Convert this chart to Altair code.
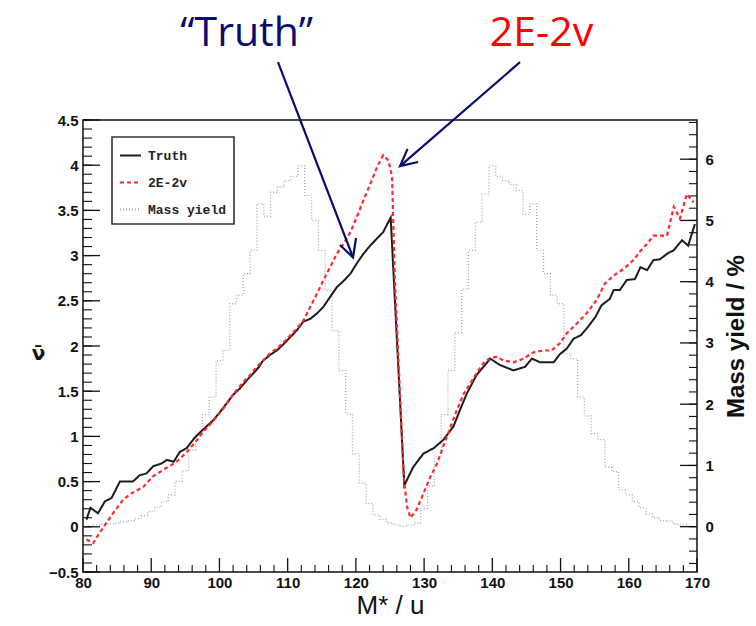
import altair as alt
import pandas as pd

# ---------------- data ----------------
truth_x = [80.5, 81.1, 82.2, 83.2, 84.2, 85.4, 86.4, 87.3, 88.3, 89.3, 90.3, 91.5, 92.3, 93.3, 94.2,
           95.2, 96.2, 97.1, 98.1, 99.1, 100.1, 101.1, 102.0, 103.0, 104.0, 105.0, 105.8, 106.3, 107.4,
           108.4, 109.4, 110.4, 111.3, 112.3, 113.3, 114.3, 115.2, 116.2, 117.2, 118.2, 119.2, 120.1,
           121.1, 122.1, 123.1, 124.0, 125.1, 127.1, 128.4, 129.9, 131.4, 132.8, 134.3, 135.3, 136.3,
           137.7, 139.7, 141.1, 143.1, 144.8, 145.8, 147.0, 149.0, 149.9, 150.9, 151.9, 153.0, 154.0,
           155.1, 156.0, 157.2, 157.8, 158.7, 159.7, 160.9, 161.7, 162.7, 163.6, 164.6, 165.6, 166.6,
           167.8, 168.7, 169.7]
truth_y = [0.08, 0.21, 0.15, 0.28, 0.32, 0.50, 0.50, 0.50, 0.57, 0.59, 0.67, 0.70, 0.74, 0.72, 0.83,
           0.87, 0.97, 1.04, 1.11, 1.18, 1.27, 1.37, 1.46, 1.53, 1.62, 1.70, 1.77, 1.83, 1.90,
           1.95, 2.02, 2.10, 2.17, 2.27, 2.30, 2.36, 2.43, 2.54, 2.65, 2.72, 2.80, 2.91,
           3.02, 3.11, 3.19, 3.26, 3.42, 0.46, 0.66, 0.81, 0.87, 0.96, 1.11, 1.30, 1.48,
           1.68, 1.86, 1.79, 1.73, 1.77, 1.86, 1.82, 1.82, 1.91, 1.97, 2.08, 2.12, 2.21,
           2.32, 2.45, 2.52, 2.62, 2.62, 2.73, 2.74, 2.87, 2.84, 2.95, 2.96, 3.02, 3.06,
           3.17, 3.11, 3.35]

e2v_x = [80.5, 81.5, 82.4, 83.4, 84.6, 85.9, 87.1, 88.8, 90.3, 92.2, 93.7, 94.6, 95.6, 96.6, 97.6,
         98.6, 99.6, 100.6, 101.6, 102.5, 103.5, 104.5, 105.5, 106.4, 107.4, 108.4, 109.4, 110.4,
         111.3, 112.3, 113.3, 114.3, 115.2, 116.2, 117.2, 118.2, 119.2, 120.1, 121.1, 122.1, 123.1,
         124.0, 124.8, 125.3, 125.7, 127.0, 127.5, 128.0, 128.9, 129.9, 130.9, 131.9, 132.8, 133.8,
         134.8, 135.8, 136.7, 137.7, 138.7, 139.7, 140.7, 141.6, 143.1, 144.6, 146.0, 147.5, 148.7,
         149.9, 150.9, 152.4, 153.8, 155.3, 156.5, 157.8, 159.2, 160.7, 161.7, 162.7, 163.6, 165.6,
         166.6, 167.5, 168.5, 169.5]
e2v_y = [-0.14, -0.18, -0.07, 0.04, 0.17, 0.30, 0.37, 0.44, 0.56, 0.65, 0.72, 0.78, 0.86, 0.95, 1.05,
         1.13, 1.22, 1.31, 1.42, 1.51, 1.60, 1.68, 1.77, 1.84, 1.92, 1.97, 2.04, 2.12,
         2.19, 2.28, 2.43, 2.58, 2.72, 2.87, 3.02, 3.13, 3.26, 3.42, 3.61, 3.79, 3.98,
         4.11, 4.05, 3.87, 2.76, 0.56, 0.22, 0.10, 0.19, 0.37, 0.55, 0.70, 0.89, 1.09,
         1.29, 1.47, 1.58, 1.70, 1.81, 1.87, 1.88, 1.84, 1.82, 1.86, 1.93, 1.95, 1.95,
         2.03, 2.14, 2.25, 2.36, 2.51, 2.69, 2.78, 2.85, 2.95, 3.05, 3.13, 3.22, 3.22,
         3.54, 3.41, 3.68, 3.59]

yield_mass = list(range(80, 171))
yield_pct = [0.00, 0.01, 0.03, 0.04, 0.05, 0.06, 0.08, 0.10, 0.13, 0.18,   # 80-89
             0.25, 0.32, 0.41, 0.52, 0.74, 0.91, 1.25, 1.52, 1.83, 2.12,   # 90-99
             2.71, 2.88, 3.64, 3.78, 4.13, 4.51, 5.27, 5.07, 5.46, 5.55,   # 100-109
             5.65, 5.72, 5.89, 5.41, 5.00, 4.51, 3.86, 3.20, 2.55, 1.84,   # 110-119
             1.19, 0.71, 0.38, 0.19, 0.12, 0.06, 0.03, 0.01, 0.03, 0.06,   # 120-129
             0.30, 0.66, 1.14, 1.83, 2.55, 3.17, 3.88, 4.51, 4.97, 5.43,   # 130-139
             5.89, 5.72, 5.65, 5.59, 5.49, 5.10, 5.27, 4.51, 4.13, 3.78,   # 140-149
             3.64, 2.83, 2.74, 2.12, 1.81, 1.52, 1.42, 0.97, 0.90, 0.60,   # 150-159
             0.52, 0.41, 0.31, 0.21, 0.15, 0.10, 0.09, 0.04, 0.03, 0.01,   # 160-169
             0.00]                                                          # 170

series_names = ["Truth", "2E-2v", "Mass yield"]
series_colors = ["#1c1c1c", "#ff2a2a", "#a8a8a8"]
series_dash = [[1, 0], [4, 3], [1, 2]]

x_labels = list(range(80, 171, 10))
x_minor = [v for v in range(80, 171, 2) if v % 10]
left_labels = [-0.5, 0, 0.5, 1, 1.5, 2, 2.5, 3, 3.5, 4, 4.5]
left_minor = [round(-0.5 + 0.1 * i, 1) for i in range(51)]
right_labels = [0, 1, 2, 3, 4, 5, 6]
right_minor = [round(-0.6 + 0.2 * i, 1) for i in range(37)]

ann_text = ["\u201cTruth\u201d", "2E-2v"]
ann_x = [104.0, 147.2]
ann_y = [5.32, 5.32]
ann_colors = ["#0b0b6e", "#ff0000"]

arrow_part = ["t_shaft", "t_shaft", "t_head", "t_head", "t_head",
              "e_shaft", "e_shaft", "e_head", "e_head", "e_head"]
arrow_order = [0, 1, 0, 1, 2, 0, 1, 0, 1, 2]
arrow_x = [108.58, 119.58, 117.67, 119.58, 120.02, 144.06, 126.47, 129.11, 126.47, 127.57]
arrow_y = [5.14, 2.98, 3.117, 2.98, 3.195, 5.14, 3.99, 4.035, 3.99, 4.18]

# ---------------- frames ----------------
df_truth = pd.DataFrame({"M": truth_x, "v": truth_y, "series": "Truth"})
df_e2v = pd.DataFrame({"M": e2v_x, "v": e2v_y, "series": "2E-2v"})
df_yield = pd.DataFrame({"M": yield_mass, "v": yield_pct, "series": "Mass yield"})
df_ann0 = pd.DataFrame({"M": [ann_x[0]], "v": [ann_y[0]], "t": [ann_text[0]]})
df_ann1 = pd.DataFrame({"M": [ann_x[1]], "v": [ann_y[1]], "t": [ann_text[1]]})
df_arrow = pd.DataFrame({"M": arrow_x, "v": arrow_y, "part": arrow_part, "k": arrow_order})

W, H = 614, 452
xsc = alt.Scale(domain=[80, 170], nice=False, zero=False)
ylsc = alt.Scale(domain=[-0.5, 4.5], nice=False, zero=False)
yrsc = alt.Scale(domain=[-0.74, 6.64], nice=False, zero=False)

LBL = dict(labelFont="Liberation Sans", labelFontWeight="bold", labelFontSize=15,
           labelColor="#111111", ticks=False, domain=False, grid=False,
           labelOverlap=False, labelFlush=False)

x_axis = alt.Axis(values=x_labels, format="d", labelPadding=3, title="M* / u",
                  titleFont="Liberation Sans", titleFontSize=26, titleFontWeight="normal",
                  titleColor="#111111", titleBaseline="middle", titleY=33, **LBL)
yl_axis = alt.Axis(values=left_labels, format="~g", labelPadding=5, title="\u03bd\u0304",
                   titleAngle=0, titleFont="DejaVu Sans", titleFontSize=20,
                   titleFontWeight="bold", titleColor="#111111", titleAlign="center",
                   titleBaseline="middle", titleX=-45, titleY=233, **LBL)
yr_axis = alt.Axis(values=right_labels, format="d", orient="right", labelPadding=8,
                   title="Mass yield / %", titleAngle=270, titleFont="Liberation Sans",
                   titleFontSize=24, titleFontWeight="bold", titleColor="#111111",
                   titleAlign="center", titleBaseline="middle", titleX=39, titleY=216, **LBL)

leg = alt.Legend(title=None, labelExpr="datum.label + '\u00a0\u00a0'")
color = alt.Color("series:N", scale=alt.Scale(domain=series_names, range=series_colors), legend=leg)
dash = alt.StrokeDash("series:N", scale=alt.Scale(domain=series_names, range=series_dash), legend=leg)

# every layer carries the same x axis definition so the shared axis merges cleanly
XA = alt.X("M:Q", scale=xsc, axis=x_axis, title="M* / u")

yield_line = alt.Chart(df_yield).mark_line(interpolate="step", strokeWidth=1.3).encode(
    x=XA, y=alt.Y("v:Q", scale=yrsc, axis=yr_axis), color=color, strokeDash=dash)
r_major = alt.Chart(pd.DataFrame({"v": right_labels})).mark_rule(color="#111111", strokeWidth=1.3).encode(
    y=alt.Y("v:Q", scale=yrsc, axis=None), x=alt.value(W), x2=alt.value(W - 17))
r_minor = alt.Chart(pd.DataFrame({"v": right_minor})).mark_rule(color="#111111", strokeWidth=1.1).encode(
    y=alt.Y("v:Q", scale=yrsc, axis=None), x=alt.value(W), x2=alt.value(W - 8))

truth = alt.Chart(df_truth).mark_line(strokeWidth=2).encode(
    x=XA, y=alt.Y("v:Q", scale=ylsc, axis=yl_axis), color=color, strokeDash=dash)
e2v = alt.Chart(df_e2v).mark_line(strokeWidth=2.2).encode(
    x=XA, y=alt.Y("v:Q", scale=ylsc, axis=None), color=color, strokeDash=dash)
l_major = alt.Chart(pd.DataFrame({"v": left_labels})).mark_rule(color="#111111", strokeWidth=1.3).encode(
    y=alt.Y("v:Q", scale=ylsc, axis=None), x=alt.value(0), x2=alt.value(17))
l_minor = alt.Chart(pd.DataFrame({"v": left_minor})).mark_rule(color="#111111", strokeWidth=1.1).encode(
    y=alt.Y("v:Q", scale=ylsc, axis=None), x=alt.value(0), x2=alt.value(9))
b_major = alt.Chart(pd.DataFrame({"M": x_labels})).mark_rule(color="#111111", strokeWidth=1.3).encode(
    x=XA, y=alt.value(H), y2=alt.value(H - 14))
b_minor = alt.Chart(pd.DataFrame({"M": x_minor})).mark_rule(color="#111111", strokeWidth=1.1).encode(
    x=XA, y=alt.value(H), y2=alt.value(H - 7))

arrows = alt.Chart(df_arrow).mark_line(color="#0b0b6e", strokeWidth=2.2).encode(
    x=XA, y=alt.Y("v:Q", scale=ylsc, axis=None), detail="part:N", order="k:Q")
txt0 = alt.Chart(df_ann0).mark_text(font="Open Sans", fontSize=41, color=ann_colors[0],
                                    align="center", baseline="alphabetic").encode(
    x=XA, y=alt.Y("v:Q", scale=ylsc, axis=None), text="t:N")
txt1 = alt.Chart(df_ann1).mark_text(font="Open Sans", fontSize=41, color=ann_colors[1],
                                    align="center", baseline="alphabetic").encode(
    x=XA, y=alt.Y("v:Q", scale=ylsc, axis=None), text="t:N")

chart = alt.layer(yield_line, r_major, r_minor, truth, e2v, l_major, l_minor, b_major, b_minor,
                  arrows, txt0, txt1).resolve_scale(y="independent").properties(
    width=W, height=H,
    autosize=alt.AutoSizeParams(type="none"),
    padding={"left": 83, "top": 120, "right": 59, "bottom": 54},
    background="white",
).configure_view(stroke="#111111", strokeWidth=1.5).configure_legend(
    orient="none", legendX=29, legendY=17, strokeColor="#333333", strokeWidth=1.6,
    fillColor="#ffffff", padding=7, rowPadding=8, symbolType="stroke", symbolSize=441,
    symbolStrokeWidth=2, labelFont="Liberation Mono", labelFontWeight="bold",
    labelFontSize=13, labelOffset=6, labelColor="#222222")

chart.save("out.html", embed_options={"renderer": "svg", "actions": False})
